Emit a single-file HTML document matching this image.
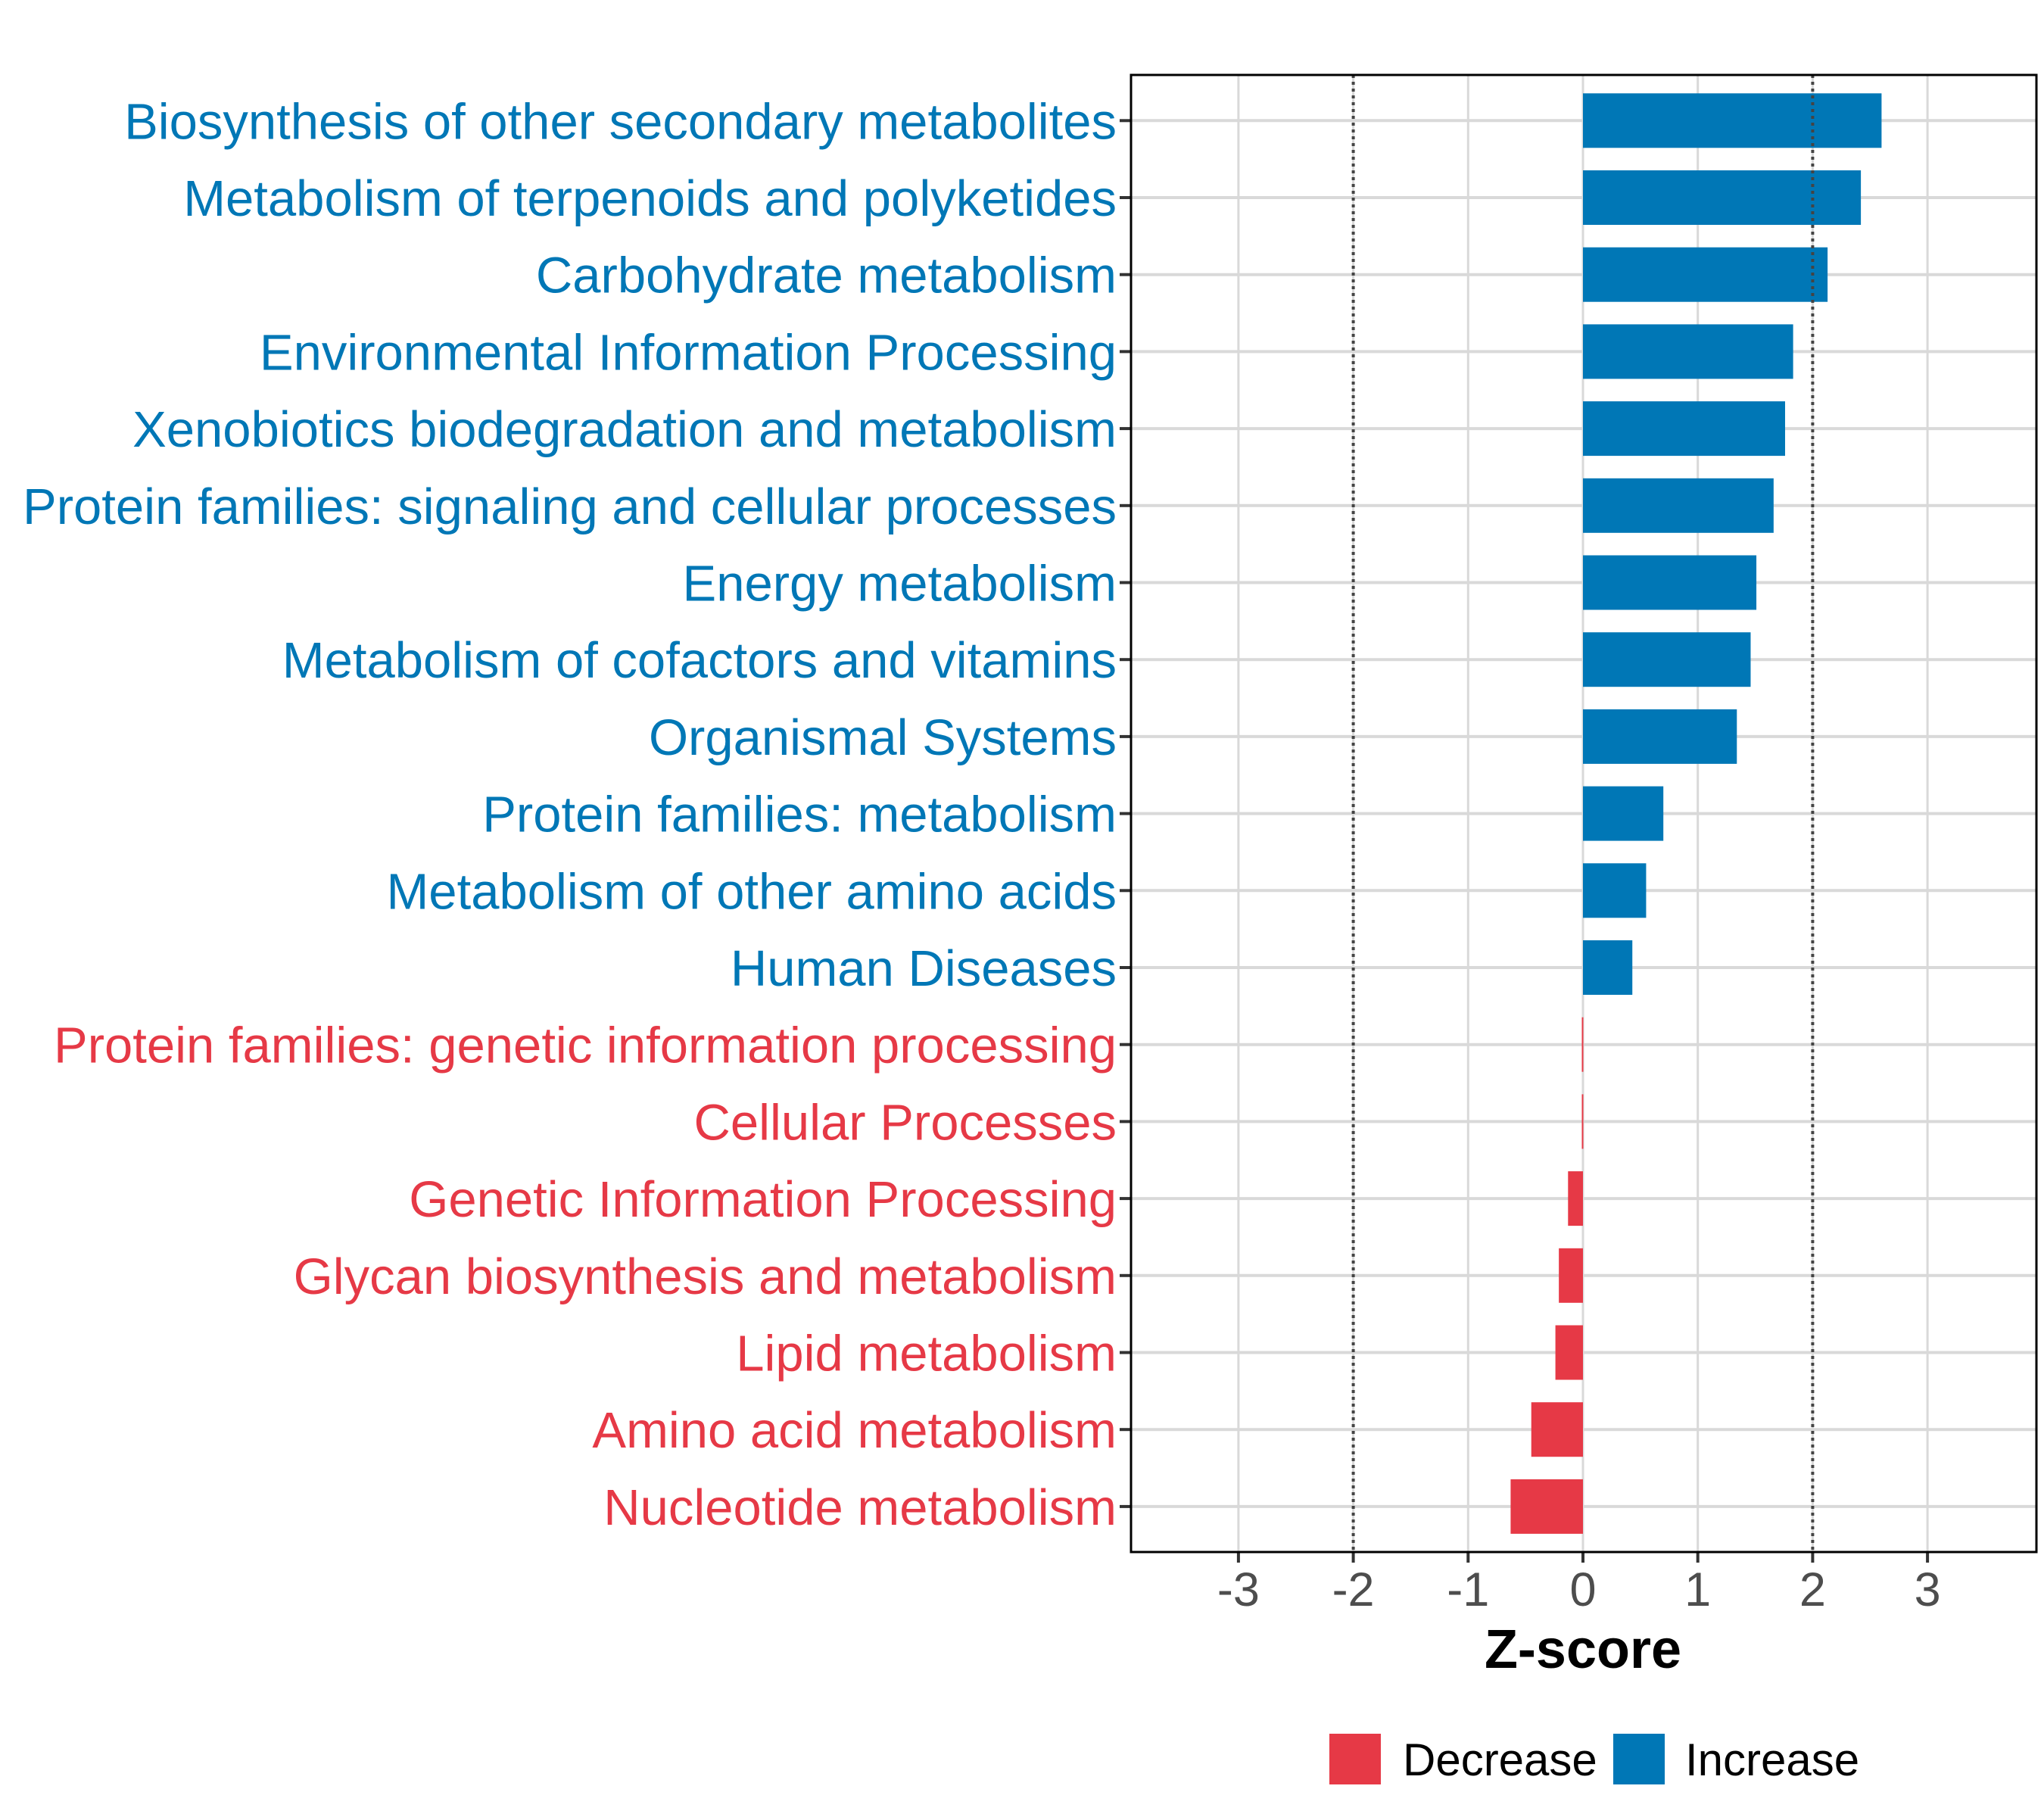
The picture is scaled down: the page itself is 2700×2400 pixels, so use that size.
<!DOCTYPE html>
<html><head><meta charset="utf-8"><style>
html,body{margin:0;padding:0;background:#fff;}
svg{display:block;font-family:"Liberation Sans",Arial,sans-serif;}
</style></head><body>
<svg id="chart" width="2700" height="2400" viewBox="0 0 2700 2400" xmlns="http://www.w3.org/2000/svg">
<rect x="0" y="0" width="2700" height="2400" fill="#fff"/>
<g id="grid"></g>
<g id="bars"></g>
<g id="ylabels"></g>
<g id="xaxis"></g>
<rect x="1494" y="99" width="1196" height="1951" fill="none" stroke="#000" stroke-width="3"/>
<text x="2091" y="2203" text-anchor="middle" font-size="72" font-weight="bold" fill="#000">Z-score</text>
<g>
<rect x="1756" y="2290" width="68" height="67" fill="#E63946"/>
<text x="1853" y="2345" font-size="60" fill="#000">Decrease</text>
<rect x="2131" y="2290" width="68" height="67" fill="#0077B6"/>
<text x="2226" y="2345" font-size="60" fill="#000">Increase</text>
</g>
</svg>
<script>
const categories = ["Biosynthesis of other secondary metabolites","Metabolism of terpenoids and polyketides","Carbohydrate metabolism","Environmental Information Processing","Xenobiotics biodegradation and metabolism","Protein families: signaling and cellular processes","Energy metabolism","Metabolism of cofactors and vitamins","Organismal Systems","Protein families: metabolism","Metabolism of other amino acids","Human Diseases","Protein families: genetic information processing","Cellular Processes","Genetic Information Processing","Glycan biosynthesis and metabolism","Lipid metabolism","Amino acid metabolism","Nucleotide metabolism"];
const zscores = [2.60,2.42,2.13,1.83,1.76,1.66,1.51,1.46,1.34,0.70,0.55,0.43,-0.01,-0.01,-0.13,-0.21,-0.24,-0.45,-0.63];
const xTicks = [-3,-2,-1,0,1,2,3];
const refLines = [-2,2];

const NS="http://www.w3.org/2000/svg";
const x0=2091, unit=151.7;
const xScale=v=>x0+v*unit;
const yTop=159.3, step=101.7;
const yScale=i=>yTop+i*step;
const panelL=1494, panelR=2690, panelT=99, panelB=2050;
const BLUE="#0077B6", RED="#E63946";
function mk(tag,attrs,parent){const e=document.createElementNS(NS,tag);for(const k in attrs)e.setAttribute(k,attrs[k]);parent.appendChild(e);return e;}
const grid=document.getElementById('grid'),bars=document.getElementById('bars'),yl=document.getElementById('ylabels'),xa=document.getElementById('xaxis');
categories.forEach((c,i)=>{
  const l=mk('line',{x1:panelL,x2:panelR,y1:yScale(i),y2:yScale(i),stroke:'#d9d9d9','stroke-width':4},grid);
  
  
});
xTicks.forEach(t=>{
  const l=mk('line',{x1:xScale(t),x2:xScale(t),y1:panelT,y2:panelB,stroke:'#d9d9d9','stroke-width':3},grid);
  
  
  const tk=mk('line',{x1:xScale(t),x2:xScale(t),y1:panelB,y2:panelB+14,stroke:'#333','stroke-width':4},xa);
  
  
  const tx=mk('text',{x:xScale(t),y:2121,'text-anchor':'middle','font-size':63,fill:'#4d4d4d'},xa);
  tx.textContent=String(t);
  
  
});
zscores.forEach((v,i)=>{
  const a=Math.min(xScale(0),xScale(v)), w=Math.max(Math.abs(xScale(v)-xScale(0)),2);
  const r=mk('rect',{x:a,y:yScale(i)-36,width:w,height:72,fill:v>=0?BLUE:RED},bars);
  
  
  const tk=mk('line',{x1:panelL-15,x2:panelL,y1:yScale(i),y2:yScale(i),stroke:'#333','stroke-width':4},yl);
  
  
  const t=mk('text',{x:1475,y:yScale(i)+24,'text-anchor':'end','font-size':67,fill:v>=0?BLUE:RED},yl);
  t.textContent=categories[i];
  
  
});
refLines.forEach(r=>{
  const l=mk('line',{x1:xScale(r),x2:xScale(r),y1:panelT,y2:panelB,stroke:'#444','stroke-width':4,'stroke-dasharray':'4,5'},bars);
  
  
});
</script>
</body></html>
